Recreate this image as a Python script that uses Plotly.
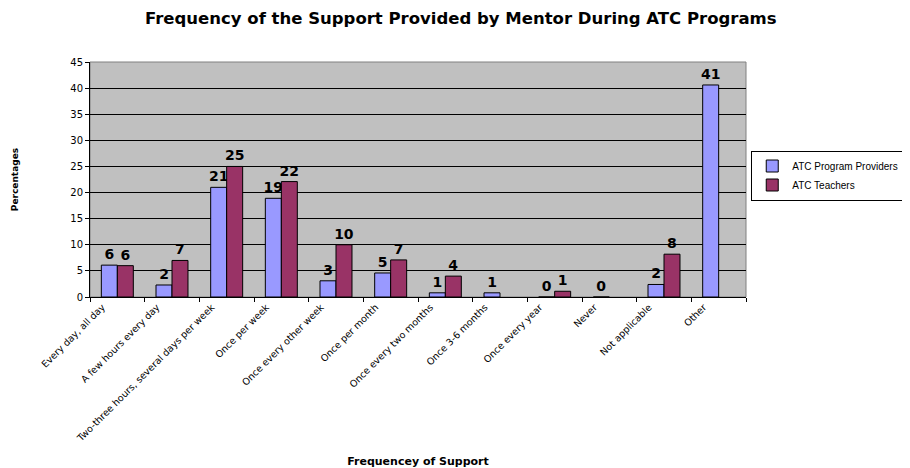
import plotly.graph_objects as go

categories = ["Every day, all day", "A few hours every day", "Two-three hours, several days per week",
              "Once per week", "Once every other week", "Once per month", "Once every two months",
              "Once 3-6 months", "Once every year", "Never", "Not applicable", "Other"]
providers = [6.1, 2.3, 21.0, 18.9, 3.1, 4.6, 0.8, 0.8, 0, 0, 2.4, 40.6]
teachers = [6.0, 7.0, 25.0, 22.1, 10.0, 7.1, 4.0, None, 1.1, None, 8.2, None]

WIDE = "DejaVu Sans"
LABEL_FONT = dict(family=WIDE, size=14, color="black")

fig = go.Figure()
fig.add_trace(go.Bar(name="ATC Program Providers", x=categories, y=providers,
                     marker=dict(color="#9999FF", line=dict(color="black", width=1)),
                     texttemplate="<b>%{y:.0f}</b>", textposition="outside", cliponaxis=False,
                     constraintext="none", textfont=LABEL_FONT))
fig.add_trace(go.Bar(name="ATC Teachers", x=categories, y=teachers,
                     marker=dict(color="#993366", line=dict(color="black", width=1)),
                     texttemplate="<b>%{y:.0f}</b>", textposition="outside", cliponaxis=False,
                     constraintext="none", textfont=LABEL_FONT))

fig.update_layout(
    width=902, height=460,
    margin=dict(l=82, r=164, t=54, b=171, autoexpand=False),
    paper_bgcolor="white", plot_bgcolor="#C0C0C0",
    barmode="group", bargap=0.415, bargroupgap=0,
    font=dict(family="Arial", color="black"),
    title=dict(text="<b>Frequency of the Support Provided by Mentor During ATC Programs</b>",
               x=0.502, xanchor="center", y=0.978, yanchor="middle",
               font=dict(family=WIDE, size=16.5, color="black")),
    showlegend=True,
    legend=dict(x=1.008, y=0.517, xanchor="left", yanchor="middle",
                bordercolor="black", borderwidth=1, bgcolor="white",
                font=dict(family="Arial", size=10, color="black"),
                tracegroupgap=0, itemwidth=30),
)
fig.update_xaxes(
    type="category", tickangle=-45, tickson="boundaries", ticks="outside", ticklen=4,
    ticklabelshift=-15,
    tickcolor="black", showline=True, linecolor="black", linewidth=1, automargin=False,
    tickfont=dict(family=WIDE, size=9.5, color="black"),
    title=dict(text="<b>Frequencey of Support</b>", font=dict(family=WIDE, size=11, color="black"), standoff=16),
    showgrid=False,
)
fig.update_yaxes(
    range=[0, 45], dtick=5, ticks="outside", ticklen=4, tickcolor="black",
    showline=True, linecolor="black", linewidth=1, automargin=False,
    showgrid=True, gridcolor="black", gridwidth=1,
    tickfont=dict(family=WIDE, size=10, color="black"),
    title=dict(text="<b>Percentages</b>", font=dict(family=WIDE, size=9, color="black"), standoff=50),
    zeroline=False,
)
fig.add_shape(type="rect", xref="paper", yref="paper", x0=0, y0=0, x1=1, y1=1,
              line=dict(color="#808080", width=1), layer="below")
fig.write_html("out.html")
